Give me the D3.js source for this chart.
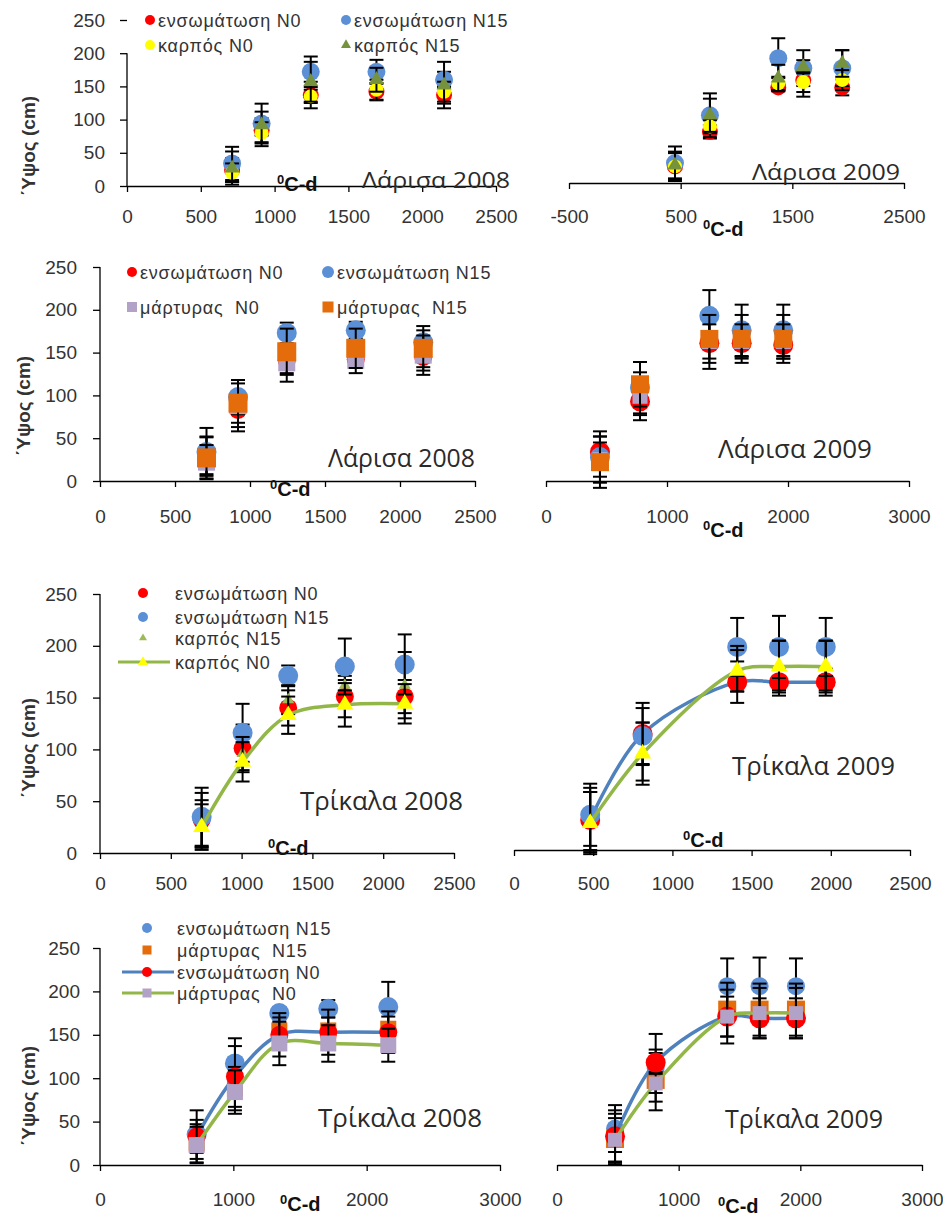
<!DOCTYPE html>
<html>
<head>
<meta charset="utf-8">
<script src="https://cdn.jsdelivr.net/npm/d3@7"></script>
<style>
  body { margin: 0; background: #fff; }
  svg text { font-family: "Liberation Sans", Arial, sans-serif; }
  svg text.ttl { font-family: "Open Sans", "Noto Sans", sans-serif; }
</style>
</head>
<body>
<svg id="fig" width="943" height="1219"></svg>
<script>
// ---- thermal time (°C-d) of each sampling, per panel ----
const gddLar08a = [712, 912, 1245, 1690, 2148];
const gddLar09a = [449, 762, 1374, 1598, 1947];
const gddLar08b = [710, 920, 1245, 1705, 2155];
const gddLar09b = [446, 777, 1350, 1617, 1961];
const gddTri08a = [718, 1007, 1329, 1729, 2152];
const gddTri09a = [481, 812, 1409, 1673, 1968];
const gddTri08b = [725, 1012, 1345, 1712, 2162];
const gddTri09b = [477, 811, 1399, 1665, 1964];

// ---- plant height (cm) and error bars ----
// Λάρισα 2008 (top row)
const lar08a_ensN0 = [24, 84, 137, 142, 137],   lar08a_ensN0_e = [18, 18, 20, 13, 13];
const lar08a_ensN15 = [34, 94, 172, 172, 160],  lar08a_ensN15_e = [25, 18, 23, 18, 12];
const lar08a_karN0 = [20, 80, 135, 145, 142],   lar08a_karN0_e = [14, 16, 10, 15, 15];
const lar08a_karN15 = [27, 92, 157, 160, 152],  lar08a_karN15_e = [25, 32, 30, 18, 35];
// Λάρισα 2009 (top row)
const lar09a_ensN0 = [25, 77, 144, 155, 144],   lar09a_ensN0_e = [22, 10, 5, 25, 12];
const lar09a_ensN15 = [30, 102, 188, 173, 173], lar09a_ensN15_e = [25, 33, 30, 27, 27];
const lar09a_karN0 = [25, 85, 150, 152, 155],   lar09a_karN0_e = [20, 10, 10, 15, 15];
const lar09a_karN15 = [27, 102, 158, 175, 180], lar09a_karN15_e = [20, 25, 20, 10, 20];
// Λάρισα 2008 (second row)
const lar08b_ensN0 = [30, 83, 141, 142, 145],   lar08b_ensN0_e = [22, 20, 15, 10, 12];
const lar08b_ensN15 = [34, 98, 173, 176, 162],  lar08b_ensN15_e = [28, 20, 12, 10, 14];
const lar08b_marN0 = [22, 88, 138, 141, 147],   lar08b_marN0_e = [20, 30, 22, 15, 23];
const lar08b_marN15 = [27, 91, 151, 155, 155],  lar08b_marN15_e = [24, 23, 27, 23, 26];
// Λάρισα 2009 (second row)
const lar09b_ensN0 = [34, 93, 161, 161, 159],   lar09b_ensN0_e = [18, 16, 30, 16, 16];
const lar09b_ensN15 = [28, 109, 193, 176, 176], lar09b_ensN15_e = [30, 30, 30, 30, 30];
const lar09b_marN0 = [25, 99, 163, 163, 163],   lar09b_marN0_e = [20, 28, 20, 20, 20];
const lar09b_marN15 = [22, 113, 166, 166, 166], lar09b_marN15_e = [30, 26, 28, 28, 28];
// Τρίκαλα 2008 (third row)
const tri08a_ensN0 = [32, 101, 140, 151, 151],  tri08a_ensN0_e = [26, 23, 17, 20, 16];
const tri08a_ensN15 = [35, 116, 171, 180, 182], tri08a_ensN15_e = [28, 28, 10, 27, 29];
const tri08a_karN15 = [28, 96, 148, 162, 162],  tri08a_karN15_e = [23, 16, 14, 5, 32];
const tri08a_karN0 = [25, 88, 133, 143, 144],   tri08a_karN0_e = [22, 19, 18, 21, 19];
// Τρίκαλα 2009 (third row)
const tri09a_ensN0 = [29, 112, 162, 162, 162],  tri09a_ensN0_e = [31, 30, 20, 13, 13];
const tri09a_ensN15 = [34, 110, 196, 196, 196], tri09a_ensN15_e = [30, 27, 28, 30, 28];
const tri09a_karN15 = [28, 95, 175, 178, 178],  tri09a_karN15_e = [28, 28, 22, 24, 24];
const tri09a_karN0 = [26, 93, 173, 177, 177],   tri09a_karN0_e = [30, 30, 20, 25, 25];
// Τρίκαλα 2008 (bottom row)
const tri08b_ensN15 = [35, 117, 175, 180, 182], tri08b_ensN15_e = [28, 29, 7, 10, 29];
const tri08b_marN15 = [25, 88, 155, 155, 157],  tri08b_marN15_e = [22, 25, 15, 15, 14];
const tri08b_ensN0 = [33, 102, 150, 153, 153],  tri08b_ensN0_e = [19, 35, 25, 26, 24];
const tri08b_marN0 = [23, 84, 140, 140, 138],   tri08b_marN0_e = [21, 25, 25, 21, 19];
// Τρίκαλα 2009 (bottom row)
const tri09b_ensN15 = [42, 112, 206, 206, 206], tri09b_ensN15_e = [27, 39, 32, 33, 32];
const tri09b_marN15 = [30, 98, 179, 179, 179],  tri09b_marN15_e = [29, 35, 31, 30, 30];
const tri09b_ensN0 = [33, 118, 171, 169, 169],  tri09b_ensN0_e = [30, 11, 31, 23, 23];
const tri09b_marN0 = [29, 94, 171, 175, 175],   tri09b_marN0_e = [25, 11, 23, 29, 29];

// ---- tick values ----
const ticks2500 = [0, 500, 1000, 1500, 2000, 2500];
const ticksNeg = [-500, 500, 1500, 2500];
const ticks3000 = [0, 1000, 2000, 3000];
const yTicks = [0, 50, 100, 150, 200, 250];

const RED = '#ff0000', BLUE = '#5b8fd6', YEL = '#ffff00', OLIVE = '#76923c',
      LGREEN = '#9bbb59', ORANGE = '#e46c0a', LILAC = '#b3a2c7',
      LBLUE = '#4f81bd', LLINE = '#92b748';

const svg = d3.select('#fig');

function pts(xs, ys, es) { return xs.map((v, i) => ({ x: v, y: ys[i], e: es[i] })); }

// marker drawing
function marker(g, shape, cx, cy, size, color) {
  if (shape === 'circle') {
    g.append('circle').attr('cx', cx).attr('cy', cy).attr('r', size).attr('fill', color);
  } else if (shape === 'square') {
    g.append('rect').attr('x', cx - size / 2).attr('y', cy - size / 2)
      .attr('width', size).attr('height', size).attr('fill', color);
  } else {
    const h = size * Math.sqrt(3) / 2;
    g.append('path')
      .attr('d', `M${cx},${cy - h * 2 / 3}L${cx - size / 2},${cy + h / 3}L${cx + size / 2},${cy + h / 3}Z`)
      .attr('fill', color);
  }
}

function cdLabel(x, y) {
  const t = svg.append('text').attr('x', x).attr('y', y)
    .attr('font-weight', 'bold').attr('font-size', 20).attr('fill', '#111');
  t.append('tspan').attr('font-size', 13).attr('dy', -7).text('0');
  t.append('tspan').attr('dy', 7).text('C-d');
}

function drawPanel(p) {
  const g = svg.append('g');
  const x = d3.scaleLinear().domain(p.xDomain).range(p.xRange);
  const y = d3.scaleLinear().domain([0, 250]).range(p.yRange);

  // x axis
  const xa = g.append('g').attr('transform', `translate(0,${y(0)})`)
    .call(d3.axisBottom(x).tickValues(p.xTicks).tickSize(6).tickSizeOuter(0)
      .tickPadding(p.xPad).tickFormat(d => String(d)));
  xa.selectAll('text').attr('font-size', 19).attr('fill', '#333');
  xa.selectAll('line,path').attr('stroke', '#000').attr('stroke-width', 1.3);

  // y axis
  if (p.yAxis) {
    const ya = g.append('g').attr('transform', `translate(${x(0)},0)`)
      .call(d3.axisLeft(y).tickValues(yTicks).tickSize(7).tickSizeOuter(0).tickPadding(p.yPad));
    ya.selectAll('text').attr('font-size', 19).attr('fill', '#333');
    ya.selectAll('line').attr('stroke', '#000').attr('stroke-width', 1.3);
    ya.select('.domain').remove();
    ya.append('line').attr('x1', 0).attr('x2', 0)
      .attr('y1', y(0)).attr('y2', y(p.yLineTop))
      .attr('stroke', '#000').attr('stroke-width', 1.3);
  }

  const line = d3.line().x(d => x(d.x)).y(d => y(d.y)).curve(d3.curveCatmullRom.alpha(0.5));

  p.series.forEach(s => {
    const data = pts(s.x, s.y, s.e);
    if (s.line) {
      g.append('path').datum(data).attr('d', line).attr('fill', 'none')
        .attr('stroke', s.line).attr('stroke-width', 3.5);
    }
    const eb = g.append('g').attr('stroke', '#000').attr('stroke-width', 2);
    data.forEach(d => {
      const cx = x(d.x);
      eb.append('line').attr('x1', cx).attr('x2', cx).attr('y1', y(d.y - d.e)).attr('y2', y(d.y + d.e));
      [d.y - d.e, d.y + d.e].forEach(v => {
        eb.append('line').attr('x1', cx - 7).attr('x2', cx + 7).attr('y1', y(v)).attr('y2', y(v));
      });
    });
    const mg = g.append('g');
    data.forEach(d => marker(mg, s.shape, x(d.x), y(d.y), s.size, s.color));
  });

  // legend
  if (p.legend) {
    const lg = svg.append('g');
    if (p.legend.bg) {
      const b = p.legend.bg;
      lg.append('rect').attr('x', b[0]).attr('y', b[1]).attr('width', b[2]).attr('height', b[3]).attr('fill', '#fff');
    }
    p.legend.items.forEach(it => {
      if (it.line) {
        lg.append('line').attr('x1', it.mx - 25).attr('x2', it.mx + 27).attr('y1', it.my).attr('y2', it.my)
          .attr('stroke', it.line).attr('stroke-width', 3);
      }
      marker(lg, it.shape, it.mx, it.my, it.size, it.color);
      lg.append('text').attr('x', it.tx).attr('y', it.my + 7)
        .attr('font-size', 18).attr('letter-spacing', 0.8).attr('fill', '#333')
        .style('white-space', 'pre').text(it.label);
    });
  }

  // title
  svg.append('text').attr('class', 'ttl').attr('x', p.title.x).attr('y', p.title.y)
    .attr('font-size', p.title.fs).attr('fill', '#2a2a2a')
    .attr('textLength', p.title.len).attr('lengthAdjust', 'spacingAndGlyphs')
    .text(p.title.text);

  cdLabel(p.cd[0], p.cd[1]);

  if (p.yTitle) {
    svg.append('text')
      .attr('transform', `translate(${p.yTitle[0]},${p.yTitle[1]}) rotate(-90)`)
      .attr('text-anchor', 'middle').attr('dominant-baseline', 'central')
      .attr('font-weight', 'bold').attr('font-size', 19).attr('fill', '#333')
      .text('΄Υψος (cm)');
  }
}

const panels = [
  { // Λάρισα 2008, top
    xDomain: [0, 2500], xRange: [127, 496], yRange: [186, 20], xTicks: ticks2500, xPad: 18,
    yAxis: true, yPad: 15, yLineTop: 200, yTitle: [28, 146],
    title: { text: 'Λάρισα 2008', x: 362, y: 188, fs: 22, len: 148 }, cd: [277, 191],
    series: [
      { x: gddLar08a, y: lar08a_ensN0, e: lar08a_ensN0_e, shape: 'circle', size: 8, color: RED },
      { x: gddLar08a, y: lar08a_ensN15, e: lar08a_ensN15_e, shape: 'circle', size: 9, color: BLUE },
      { x: gddLar08a, y: lar08a_karN0, e: lar08a_karN0_e, shape: 'circle', size: 7, color: YEL },
      { x: gddLar08a, y: lar08a_karN15, e: lar08a_karN15_e, shape: 'tri', size: 15, color: OLIVE }
    ],
    legend: { bg: [128, 2, 390, 52], items: [
      { label: 'ενσωμάτωση N0', shape: 'circle', size: 5, color: RED, mx: 150, my: 20, tx: 158 },
      { label: 'ενσωμάτωση N15', shape: 'circle', size: 5, color: BLUE, mx: 346, my: 20, tx: 354 },
      { label: 'καρπός N0', shape: 'circle', size: 5, color: YEL, mx: 150, my: 45, tx: 158 },
      { label: 'καρπός N15', shape: 'tri', size: 10, color: OLIVE, mx: 346, my: 45, tx: 354 }
    ] }
  },
  { // Λάρισα 2009, top
    xDomain: [-500, 2500], xRange: [569, 904], yRange: [183, 17], xTicks: ticksNeg, xPad: 21,
    yAxis: false,
    title: { text: 'Λάρισα 2009', x: 752, y: 180, fs: 22, len: 148 }, cd: [703, 236],
    series: [
      { x: gddLar09a, y: lar09a_ensN0, e: lar09a_ensN0_e, shape: 'circle', size: 8, color: RED },
      { x: gddLar09a, y: lar09a_ensN15, e: lar09a_ensN15_e, shape: 'circle', size: 9, color: BLUE },
      { x: gddLar09a, y: lar09a_karN0, e: lar09a_karN0_e, shape: 'circle', size: 7, color: YEL },
      { x: gddLar09a, y: lar09a_karN15, e: lar09a_karN15_e, shape: 'tri', size: 15, color: OLIVE }
    ]
  },
  { // Λάρισα 2008, second row
    xDomain: [0, 2500], xRange: [100, 475], yRange: [481, 267], xTicks: ticks2500, xPad: 23,
    yAxis: true, yPad: 16, yLineTop: 250, yTitle: [23, 406],
    title: { text: 'Λάρισα 2008', x: 328, y: 467, fs: 25, len: 147 }, cd: [270, 496],
    series: [
      { x: gddLar08b, y: lar08b_ensN0, e: lar08b_ensN0_e, shape: 'circle', size: 9, color: RED },
      { x: gddLar08b, y: lar08b_ensN15, e: lar08b_ensN15_e, shape: 'circle', size: 10, color: BLUE },
      { x: gddLar08b, y: lar08b_marN0, e: lar08b_marN0_e, shape: 'square', size: 17, color: LILAC },
      { x: gddLar08b, y: lar08b_marN15, e: lar08b_marN15_e, shape: 'square', size: 19, color: ORANGE }
    ],
    legend: { items: [
      { label: 'ενσωμάτωση N0', shape: 'circle', size: 5, color: RED, mx: 132, my: 272, tx: 140 },
      { label: 'ενσωμάτωση N15', shape: 'circle', size: 6, color: BLUE, mx: 328, my: 272, tx: 337 },
      { label: 'μάρτυρας  N0', shape: 'square', size: 10, color: LILAC, mx: 132, my: 307, tx: 140 },
      { label: 'μάρτυρας  N15', shape: 'square', size: 11, color: ORANGE, mx: 328, my: 307, tx: 337 }
    ] }
  },
  { // Λάρισα 2009, second row
    xDomain: [0, 3000], xRange: [546, 909], yRange: [481, 267], xTicks: ticks3000, xPad: 23,
    yAxis: false,
    title: { text: 'Λάρισα 2009', x: 718, y: 458, fs: 25, len: 154 }, cd: [703, 537],
    series: [
      { x: gddLar09b, y: lar09b_ensN0, e: lar09b_ensN0_e, shape: 'circle', size: 10, color: RED },
      { x: gddLar09b, y: lar09b_ensN15, e: lar09b_ensN15_e, shape: 'circle', size: 10, color: BLUE },
      { x: gddLar09b, y: lar09b_marN0, e: lar09b_marN0_e, shape: 'square', size: 15, color: LILAC },
      { x: gddLar09b, y: lar09b_marN15, e: lar09b_marN15_e, shape: 'square', size: 18, color: ORANGE }
    ]
  },
  { // Τρίκαλα 2008, third row
    xDomain: [0, 2500], xRange: [100, 454], yRange: [853, 594], xTicks: ticks2500, xPad: 18,
    yAxis: true, yPad: 16, yLineTop: 250, yTitle: [28, 748],
    title: { text: 'Τρίκαλα 2008', x: 300, y: 810, fs: 25, len: 163 }, cd: [268, 855],
    series: [
      { x: gddTri08a, y: tri08a_ensN0, e: tri08a_ensN0_e, shape: 'circle', size: 9, color: RED },
      { x: gddTri08a, y: tri08a_ensN15, e: tri08a_ensN15_e, shape: 'circle', size: 10, color: BLUE },
      { x: gddTri08a, y: tri08a_karN15, e: tri08a_karN15_e, shape: 'tri', size: 12, color: LGREEN },
      { x: gddTri08a, y: tri08a_karN0, e: tri08a_karN0_e, shape: 'tri', size: 17, color: YEL, line: LLINE }
    ],
    legend: { items: [
      { label: 'ενσωμάτωση N0', shape: 'circle', size: 5, color: RED, mx: 143, my: 593, tx: 175 },
      { label: 'ενσωμάτωση N15', shape: 'circle', size: 5, color: BLUE, mx: 143, my: 617, tx: 175 },
      { label: 'καρπός N15', shape: 'tri', size: 8, color: LGREEN, mx: 143, my: 638, tx: 175 },
      { label: 'καρπός N0', shape: 'tri', size: 10, color: YEL, mx: 143, my: 662, tx: 175, line: LLINE }
    ] }
  },
  { // Τρίκαλα 2009, third row
    xDomain: [0, 2500], xRange: [514, 910], yRange: [850, 591], xTicks: ticks2500, xPad: 21,
    yAxis: false,
    title: { text: 'Τρίκαλα 2009', x: 732, y: 775, fs: 25, len: 163 }, cd: [683, 847],
    series: [
      { x: gddTri09a, y: tri09a_ensN0, e: tri09a_ensN0_e, shape: 'circle', size: 10, color: RED, line: LBLUE },
      { x: gddTri09a, y: tri09a_ensN15, e: tri09a_ensN15_e, shape: 'circle', size: 10, color: BLUE },
      { x: gddTri09a, y: tri09a_karN15, e: tri09a_karN15_e, shape: 'tri', size: 12, color: LGREEN },
      { x: gddTri09a, y: tri09a_karN0, e: tri09a_karN0_e, shape: 'tri', size: 17, color: YEL, line: LLINE }
    ]
  },
  { // Τρίκαλα 2008, bottom row
    xDomain: [0, 3000], xRange: [100, 500], yRange: [1165, 948], xTicks: ticks3000, xPad: 22,
    yAxis: true, yPad: 13, yLineTop: 250, yTitle: [28, 1096],
    title: { text: 'Τρίκαλα 2008', x: 318, y: 1127, fs: 25, len: 164 }, cd: [280, 1211],
    series: [
      { x: gddTri08b, y: tri08b_ensN15, e: tri08b_ensN15_e, shape: 'circle', size: 10, color: BLUE },
      { x: gddTri08b, y: tri08b_marN15, e: tri08b_marN15_e, shape: 'square', size: 16, color: ORANGE },
      { x: gddTri08b, y: tri08b_ensN0, e: tri08b_ensN0_e, shape: 'circle', size: 9, color: RED, line: LBLUE },
      { x: gddTri08b, y: tri08b_marN0, e: tri08b_marN0_e, shape: 'square', size: 16, color: LILAC, line: LLINE }
    ],
    legend: { items: [
      { label: 'ενσωμάτωση N15', shape: 'circle', size: 5, color: BLUE, mx: 147, my: 928, tx: 177 },
      { label: 'μάρτυρας  N15', shape: 'square', size: 9, color: ORANGE, mx: 147, my: 950, tx: 177 },
      { label: 'ενσωμάτωση N0', shape: 'circle', size: 5, color: RED, mx: 147, my: 972, tx: 177, line: LBLUE },
      { label: 'μάρτυρας  N0', shape: 'square', size: 9, color: LILAC, mx: 147, my: 993, tx: 177, line: LLINE }
    ] }
  },
  { // Τρίκαλα 2009, bottom row
    xDomain: [0, 3000], xRange: [557, 922], yRange: [1165, 948], xTicks: ticks3000, xPad: 22,
    yAxis: false,
    title: { text: 'Τρίκαλα 2009', x: 725, y: 1128, fs: 25, len: 158 }, cd: [718, 1213],
    series: [
      { x: gddTri09b, y: tri09b_ensN15, e: tri09b_ensN15_e, shape: 'circle', size: 9, color: BLUE },
      { x: gddTri09b, y: tri09b_marN15, e: tri09b_marN15_e, shape: 'square', size: 18, color: ORANGE },
      { x: gddTri09b, y: tri09b_ensN0, e: tri09b_ensN0_e, shape: 'circle', size: 10, color: RED, line: LBLUE },
      { x: gddTri09b, y: tri09b_marN0, e: tri09b_marN0_e, shape: 'square', size: 14, color: LILAC, line: LLINE }
    ]
  }
];

panels.forEach(drawPanel);
</script>
</body>
</html>
